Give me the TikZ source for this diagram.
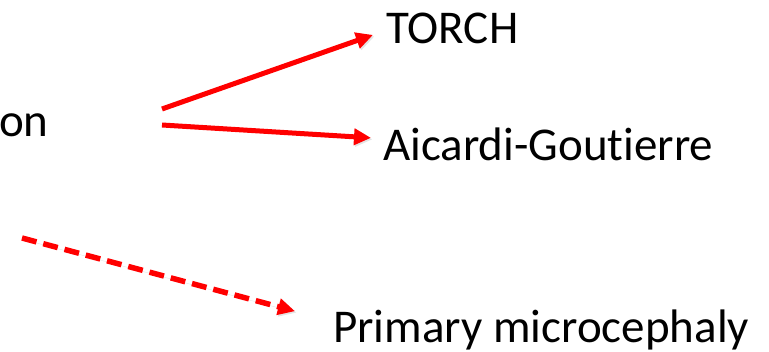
\documentclass[tikz,border=0pt]{standalone}
\usepackage{fontspec}
\setmainfont{Carlito}[Ligatures={NoCommon}]
\usepackage{xcolor}
\usetikzlibrary{positioning,calc,arrows.meta}

\tikzset{
    label/.style={anchor=base west, inner sep=0pt, font=\fontsize{47}{56}\selectfont},
    link/.style={draw=red, line width=5pt, -{Triangle[length=17pt,width=16pt]},
        preaction={draw=black!30, opacity=.35, transform canvas={shift={(1.5pt,-1.5pt)}}}},
    maybe/.style={link, line width=5.5pt, dash pattern=on 15pt off 7pt}
}

\begin{document}
\begin{tikzpicture}[x=1pt,y=-1pt]
    \useasboundingbox (0,0) rectangle (769,352);

    % labels
    \node [label] (src) at (-1,137) {on};
    \node [label] (torch) at (386,44) {TORCH};
    \node [label] (aicardi) at (383,161) {Aicardi-Goutierre};
    \node [label] (primary) at (333,343) {Primary microcephaly};

    % free starts of the arrows
    \coordinate (s1) at (162,109);
    \coordinate (s2) at (162,125);
    \coordinate (s3) at (22,238);

    % arrows
    \draw [link] (s1) -- ($(torch.west)+(-13,6)$);
    \draw [link] (s2) -- ($(aicardi.west)+(-12,-7)$);
    \draw [maybe] (s3) -- ($(primary.north west)+(-38,1)$);
\end{tikzpicture}
\end{document}
